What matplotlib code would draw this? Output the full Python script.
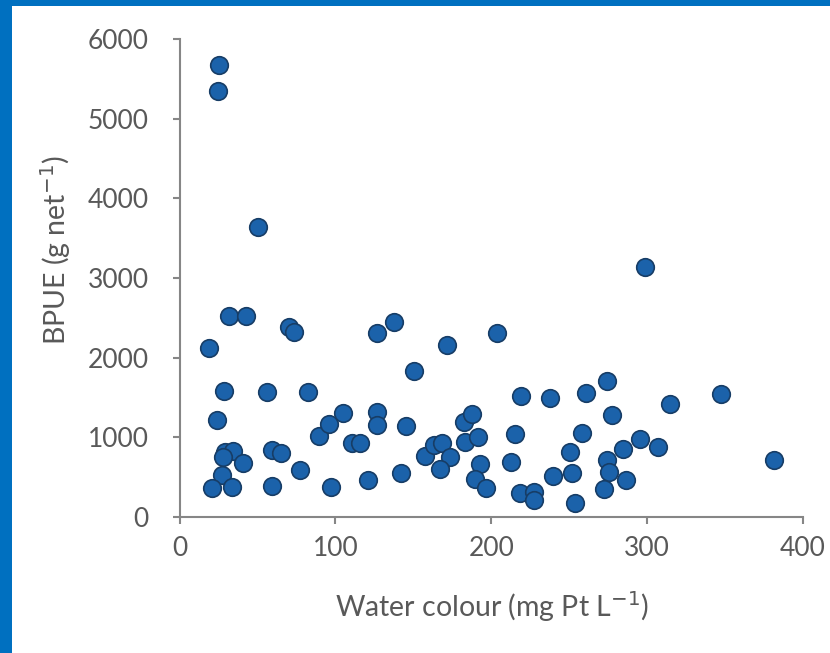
import matplotlib
matplotlib.use("Agg")
import matplotlib.pyplot as plt
from matplotlib.patches import Rectangle

# Water colour (mg Pt L-1) and BPUE (g net-1)
water_colour = [25.6, 24.9, 50.6, 298.9, 18.9, 31.6, 42.7, 70.3, 73.7, 28.6,
                56.0, 82.7, 23.9, 29.2, 34.5, 41.0, 28.1, 27.1, 20.7, 33.5,
                59.2, 65.0, 59.2, 77.4, 89.8, 96.2, 97.1, 105.2, 110.6, 115.9,
                126.6, 137.3, 171.9, 203.9, 150.6, 126.6, 126.6, 145.4, 121.2, 142.2,
                157.2, 163.0, 168.3, 173.7, 167.3, 182.2, 187.6, 183.3, 191.8, 192.9,
                189.7, 196.8, 219.1, 237.4, 260.8, 274.3, 277.5, 215.4, 212.7, 218.6,
                227.2, 227.2, 239.6, 250.3, 251.8, 253.9, 258.2, 274.3, 275.3, 272.1,
                284.6, 286.7, 295.2, 307.2, 314.5, 347.7, 381.3]
bpue = [5675, 5352, 3643, 3141, 2119, 2525, 2525, 2387, 2317, 1583,
        1570, 1563, 1215, 817, 829, 678, 754, 524, 357, 377,
        838, 804, 389, 587, 1018, 1165, 377, 1307, 922, 922,
        2304, 2442, 2157, 2308, 1834, 1319, 1152, 1143, 461, 553,
        763, 901, 930, 754, 595, 1193, 1290, 942, 1005, 662,
        470, 357, 1516, 1487, 1550, 1709, 1278, 1039, 691, 302,
        314, 210, 511, 817, 553, 176, 1048, 712, 565, 344,
        847, 461, 972, 879, 1416, 1538, 712]

x_ticks = [0, 100, 200, 300, 400]
y_ticks = [0, 1000, 2000, 3000, 4000, 5000, 6000]

W, H = 830, 653
fig = plt.figure(figsize=(W / 100, H / 100), dpi=100)
fig.patch.set_facecolor("white")

# blue frame (left and top)
border = "#0070c0"
fig.add_artist(Rectangle((0, 0), 12 / W, 1, transform=fig.transFigure,
                         facecolor=border, edgecolor="none", zorder=10))
fig.add_artist(Rectangle((0, 1 - 6 / H), 1, 6 / H, transform=fig.transFigure,
                         facecolor=border, edgecolor="none", zorder=10))

x0, x1 = 179.5, 803.0
y0, y1 = 516.7, 39.3
ax = fig.add_axes([x0 / W, (H - y0) / H, (x1 - x0) / W, (y0 - y1) / H])

ax.scatter(water_colour, bpue, s=160, c="#1b62aa", edgecolors="#173d66",
           linewidths=1.2, zorder=3, clip_on=False)

ax.set_xlim(0, 400)
ax.set_ylim(0, 6000)
ax.set_xticks(x_ticks)
ax.set_yticks(y_ticks)

for s in ["top", "right"]:
    ax.spines[s].set_visible(False)
for s in ["left", "bottom"]:
    ax.spines[s].set_color("#868686")
    ax.spines[s].set_linewidth(1.5)

txt = "#595959"
font = "Lato"
ax.tick_params(axis="both", direction="out", length=5, width=1.5,
               color="#868686", labelcolor=txt, labelsize=19)
ax.tick_params(axis="x", pad=9)
ax.tick_params(axis="y", pad=17)
for lab in ax.get_xticklabels() + ax.get_yticklabels():
    lab.set_family(font)

ax.set_xlabel("Water colour (mg Pt L$^{-1}$)", fontsize=20.5, color=txt,
              family=font)
ax.set_ylabel("BPUE (g net$^{-1}$)", fontsize=20.5, color=txt,
              family=font)
ax.xaxis.set_label_coords(0.501, -0.152)
ax.yaxis.set_label_coords(-0.171, 0.558)

fig.savefig("out.png", dpi=100, facecolor="white")
